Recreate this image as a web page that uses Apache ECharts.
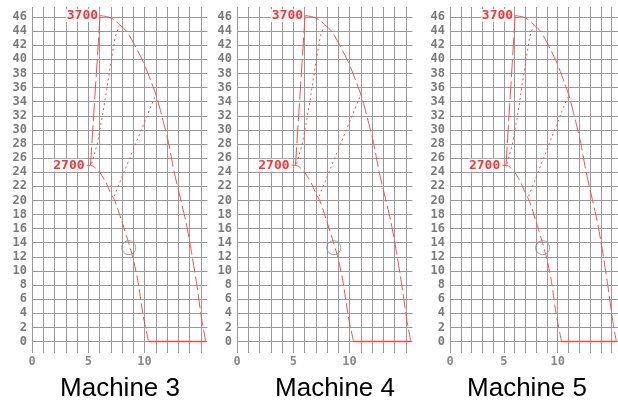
<!DOCTYPE html>
<html>
<head>
<meta charset="utf-8">
<script src="https://cdn.jsdelivr.net/npm/echarts@6/dist/echarts.min.js"></script>
<style>
  html, body { margin: 0; padding: 0; background: #fff; }
  #chart { width: 618px; height: 403px; }
</style>
</head>
<body>
<div id="chart"></div>
<script>
// same speed/pressure trace is shown for each machine
var machines = ['Machine 3', 'Machine 4', 'Machine 5'];
var xTickValues = [0, 1, 2, 3, 4, 5, 6, 7, 8, 9, 10, 11, 12, 13, 14, 15];
var xLabelValues = [0, 5, 10];

var riseLine = [[5.2, 25.0], [6.05, 46.2]];
var upperCurve = [
  [6.05, 46.2], [6.8, 46.0], [7.3, 45.6], [7.8, 44.9], [8.4, 44.0], [9.0, 42.4], [9.9, 39.6],
  [10.6, 36.8], [11.1, 34.6], [11.7, 31.0], [12.15, 28.1], [12.6, 24.3], [12.95, 21.9],
  [13.65, 17.2], [14.1, 13.4], [14.65, 8.0], [15.1, 3.0], [15.45, 0]
];
var floorLine = [[15.45, 0], [10.36, 0]];
var lowerCurve = [
  [4.85, 25.0], [5.45, 24.85], [6.05, 23.9], [6.6, 22.45], [6.95, 21.2], [7.4, 19.8],
  [7.95, 17.2], [8.55, 14.2], [8.95, 12.0], [9.4, 8.7], [9.9, 3.5], [10.36, 0]
];
var peakDots = [[5.3, 25.2], [5.8, 28.0], [6.35, 32.8], [6.95, 38.9], [7.4, 43.2], [7.75, 44.8]];
var crossDots = [[7.3, 20.6], [10.9, 34.6]];
var markers = [
  { name: '3700', value: [6.05, 46.2] },
  { name: '2700', value: [4.85, 25.0] }
];
var probe = [[8.6, 13.3]];

var panelLeft = [32, 237, 450];
var titleCenter = [120, 335, 527];
var RED = '#ff4a4a';
var GRID = '#999999';
var MONO = '"DejaVu Sans Mono", monospace';

function lineSeries(i, data, dash, width, smooth) {
  return {
    type: 'line', xAxisIndex: i * 2, yAxisIndex: i, data: data,
    symbol: 'none', silent: true, clip: false, z: 3, smooth: smooth || false,
    lineStyle: { color: RED, width: width || 1, type: dash }
  };
}

var option = { animation: false, grid: [], xAxis: [], yAxis: [], series: [], graphic: [] };

machines.forEach(function (name, i) {
  option.grid.push({ left: panelLeft[i], top: 17, width: 175.5, height: 324.5 });
  option.xAxis.push({
    type: 'value', gridIndex: i, min: 0, max: 15.6, position: 'bottom',
    axisLine: { show: false }, axisTick: { show: false }, splitLine: { show: false },
    axisLabel: { customValues: xLabelValues, margin: 14, color: '#8a8a8a', fontFamily: MONO, fontSize: 12, fontWeight: 'bold' }
  });
  // vertical grid lines drawn as long ticks so they stick out above and below the plot
  option.xAxis.push({
    type: 'value', gridIndex: i, min: 0, max: 15.6, position: 'top', offset: 10,
    axisLine: { show: false }, axisLabel: { show: false }, splitLine: { show: false },
    axisTick: { show: true, inside: true, length: 346, customValues: xTickValues, lineStyle: { color: GRID, width: 1 } }
  });
  option.yAxis.push({
    type: 'value', gridIndex: i, min: 0, max: 46, interval: 2,
    axisLine: { show: false }, axisTick: { show: false },
    splitLine: { lineStyle: { color: GRID, width: 1 } },
    axisLabel: { margin: 5, color: '#7a7a7a', fontFamily: MONO, fontSize: 12, fontWeight: 'bold' }
  });

  option.series.push(lineSeries(i, riseLine, [18, 4]));
  option.series.push(lineSeries(i, upperCurve, [14, 4], 1, 0.2));
  option.series.push(lineSeries(i, floorLine, 'solid', 1.5));
  option.series.push(lineSeries(i, lowerCurve, [10, 4], 1, 0.2));
  option.series.push(lineSeries(i, peakDots, [2, 3]));
  option.series.push(lineSeries(i, crossDots, [2, 3]));
  option.series.push({
    type: 'scatter', xAxisIndex: i * 2, yAxisIndex: i, data: probe, silent: true, clip: false, z: 4,
    symbol: 'circle', symbolSize: 14,
    itemStyle: { color: 'rgba(0,0,0,0)', borderColor: '#8a8a8a', borderWidth: 1 }
  });
  option.series.push({
    type: 'scatter', xAxisIndex: i * 2, yAxisIndex: i, data: markers, silent: true, clip: false, z: 5,
    symbolSize: 0,
    label: {
      show: true, position: 'left', distance: 1, formatter: '{b}',
      color: '#ff0000', fontFamily: MONO, fontSize: 13, fontWeight: 'bold',
      backgroundColor: '#fff', padding: [0, 1]
    }
  });

  option.graphic.push({
    type: 'text', x: titleCenter[i], y: 389,
    style: { text: name, align: 'center', verticalAlign: 'middle', font: '26px "Liberation Sans", Arial, sans-serif', fill: '#000' }
  });
});

var chart = echarts.init(document.getElementById('chart'), null, { renderer: 'canvas' });
chart.setOption(option);
</script>
</body>
</html>
